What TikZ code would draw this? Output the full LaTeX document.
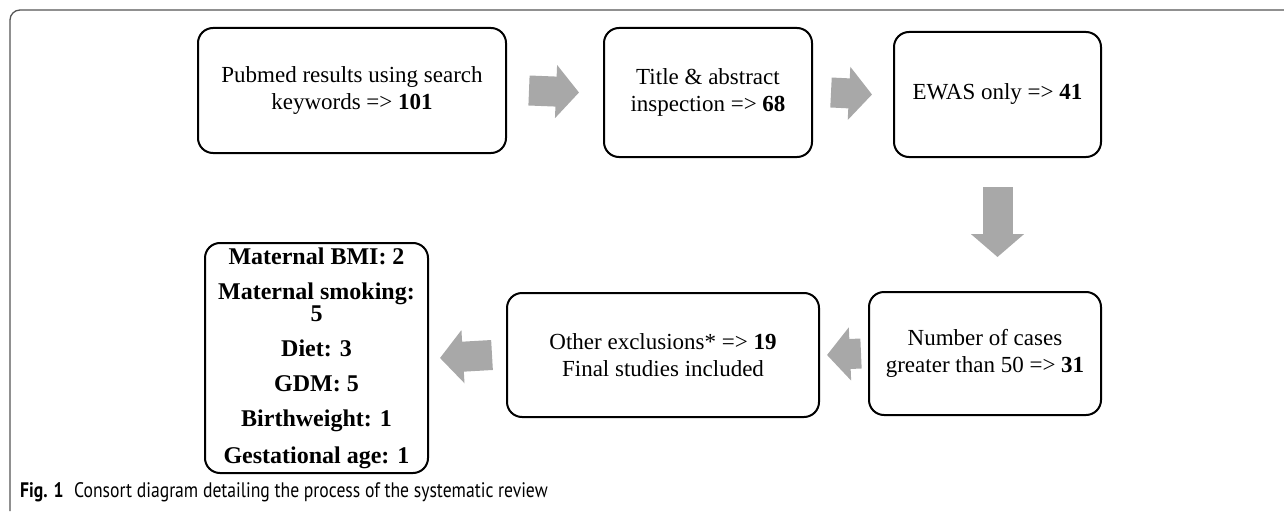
\documentclass[tikz,border=0pt]{standalone}
\usepackage{fontspec}
\setmainfont{Liberation Serif}
\newfontfamily\captionfont{PT Sans}[FakeStretch=0.84]
\usepackage{xcolor}
\usepackage{tikz}
\usetikzlibrary{arrows.meta,calc}

\definecolor{arrowGray}{RGB}{168,168,168}
\definecolor{frameGray}{RGB}{85,85,85}

\tikzstyle{tsText} = [ 
    text=black, 
    font=\fontsize{23}{27}\selectfont
]
\tikzstyle{tsWraptext} = [ 
    tsText, 
    text centered, 
    align=center
]
\tikzstyle{tsRoundedRectangle} = [ 
    rectangle,
    tsWraptext,
    draw=black,
    line width=2pt,
    rounded corners=15pt,
    inner sep=0pt,
    fill=white
]
\tikzstyle{tsBlockArrow} = [ 
    arrowGray,
    line width=30pt,
    -{Triangle[length=23pt, width=52pt]}
]

\begin{document}
\begin{tikzpicture}[x=1pt, y=-1pt]

    \useasboundingbox (0,0) rectangle (1284,511);

    % figure frame
    \draw[frameGray, line width=1.3pt, rounded corners=10pt]
        (10,511) -- (10,10) -- (1284,10);

    \node[ tsRoundedRectangle,
            minimum width=308pt,
            minimum height=125pt] (pubmed) at (352,90.5)
        {Pubmed results using search\\keywords => \textbf{101}};

    \node[ tsRoundedRectangle,
            minimum width=208pt,
            minimum height=129pt] (title) at (708,92.5)
        {Title \& abstract\\inspection => \textbf{68}};

    \node[ tsRoundedRectangle,
            minimum width=207pt,
            minimum height=125pt] (ewas) at (997.5,94.5)
        {EWAS only => \textbf{41}};

    \node[ tsRoundedRectangle,
            minimum width=232pt,
            minimum height=123pt] (cases) at (985,353.5)
        {Number of cases\\greater than 50 => \textbf{31}};

    \node[ tsRoundedRectangle,
            minimum width=312pt,
            minimum height=124pt] (other) at (663,355)
        {Other exclusions* => \textbf{19}\\Final studies included};

    \node[ tsRoundedRectangle,
            minimum width=223pt,
            minimum height=230pt,
            font=\bfseries\fontsize{24}{21}\selectfont] (final) at (316.5,358)
        {Maternal BMI: 2\\[14pt]
         Maternal smoking:\\5\\[14pt]
         Diet: 3\\[14pt]
         GDM: 5\\[14pt]
         Birthweight: 1\\[14pt]
         Gestational age: 1};

    % block arrows between the boxes
    \draw[tsBlockArrow] ([xshift=22pt]pubmed.east) -- ([xshift=-24pt]title.west);
    \draw[tsBlockArrow] ([xshift=18pt]title.east) -- ([xshift=-21pt]ewas.west);
    \draw[tsBlockArrow] ([yshift=-29pt]ewas.south) -- ([yshift=34pt]ewas.south |- cases.north);
    \draw[tsBlockArrow] ([xshift=-7pt]cases.west) -- ([xshift=7pt]other.east);
    \draw[tsBlockArrow] ([xshift=-14pt]other.west) -- ([xshift=11pt]final.east);

    \node[anchor=base west, inner sep=0pt,
          font=\captionfont\fontsize{21}{23}\selectfont] (caption) at (20,497)
        {\textbf{Fig. 1}\enspace Consort diagram detailing the process of the systematic review};

\end{tikzpicture}
\end{document}
